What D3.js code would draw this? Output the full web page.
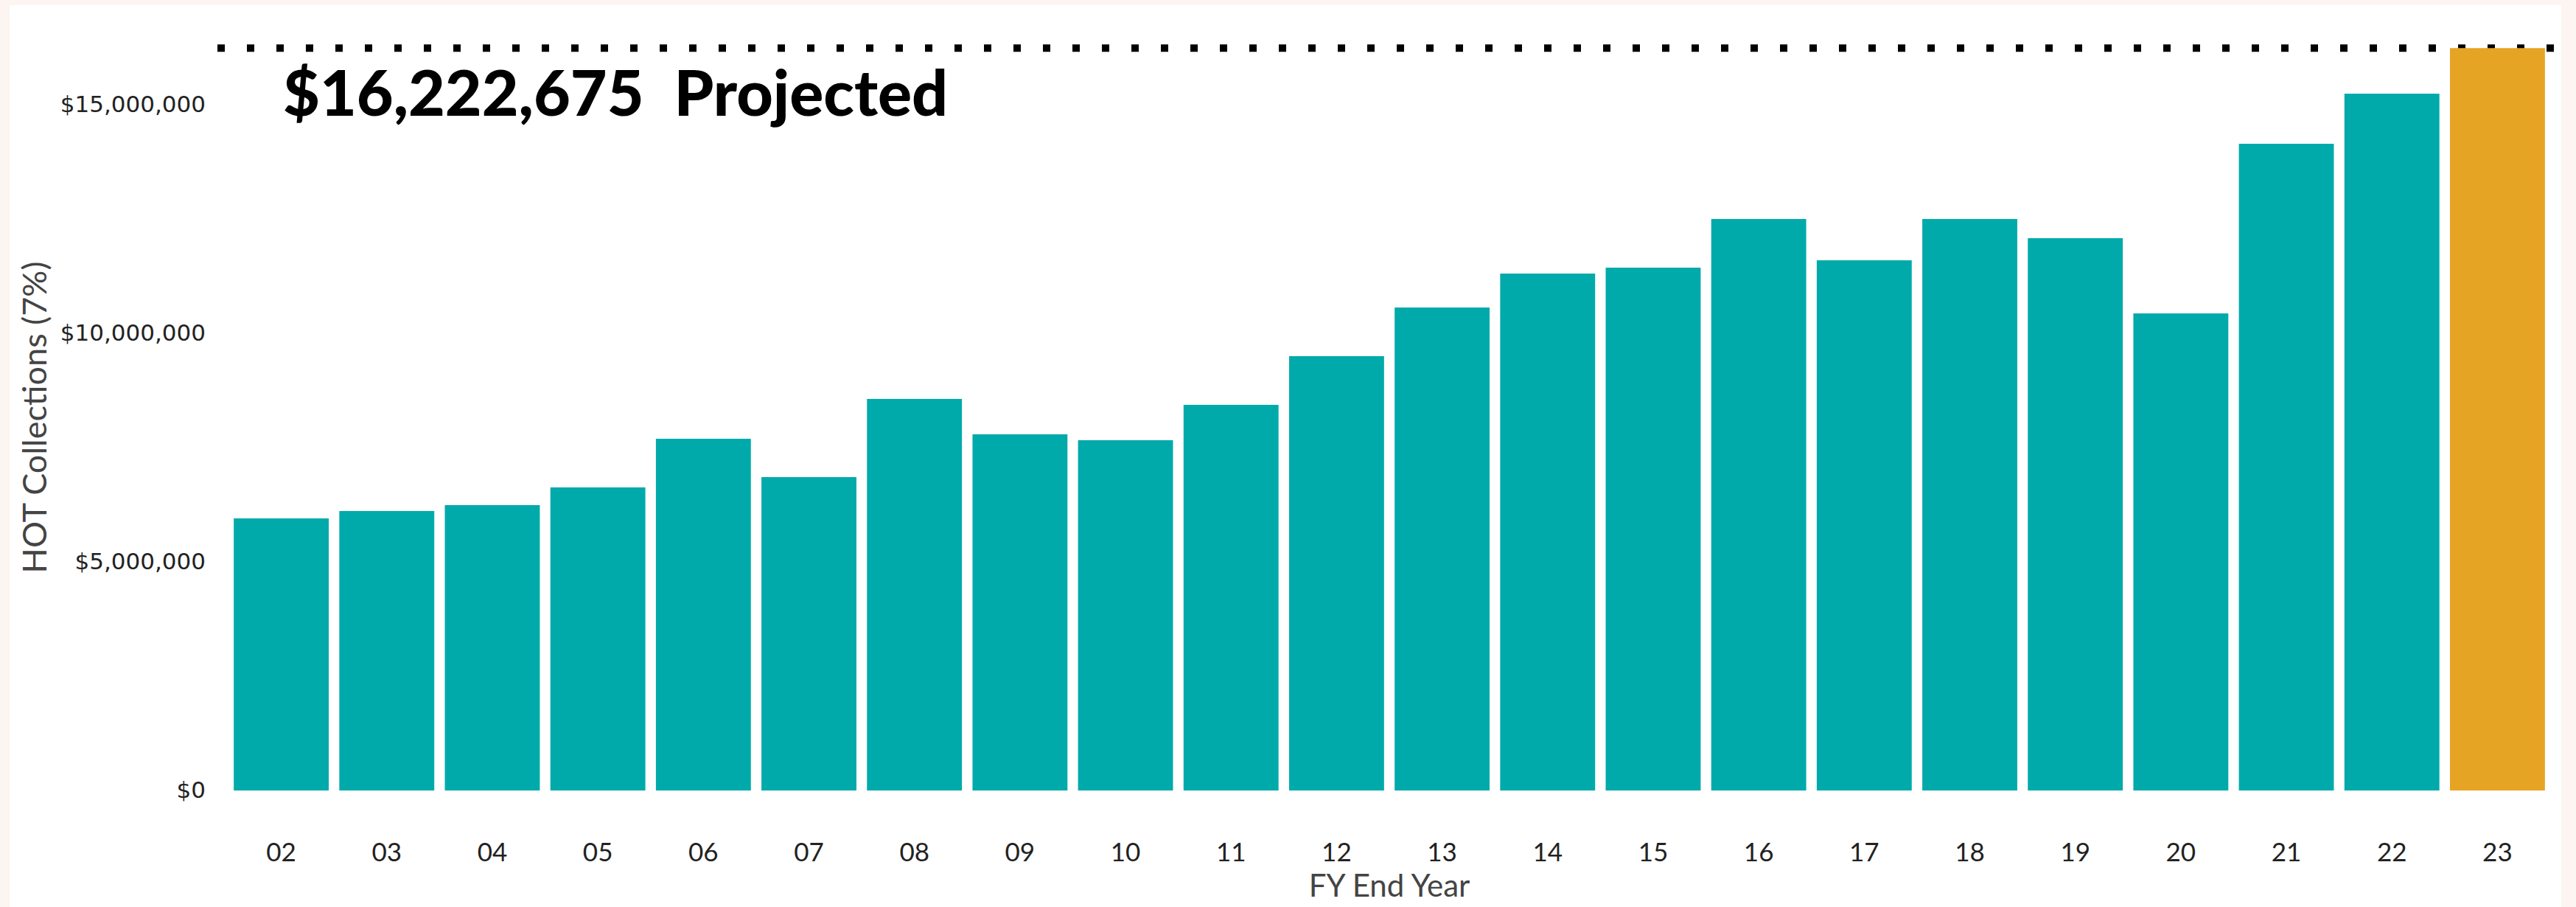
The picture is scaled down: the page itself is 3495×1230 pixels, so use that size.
<!DOCTYPE html>
<html>
<head>
<meta charset="utf-8">
<script src="https://cdnjs.cloudflare.com/ajax/libs/d3/7.8.5/d3.min.js"></script>
<style>
  body { margin: 0; background: #fdf5f2; }
  svg { display: block; }
</style>
</head>
<body>
<script>
// FY end years (20xx) and HOT collections at 7%; last one is the projection
var fyYears = ['02', '03', '04', '05', '06', '07', '08', '09', '10', '11', '12',
               '13', '14', '15', '16', '17', '18', '19', '20', '21', '22', '23'];
var hotCollections = [5946000, 6107000, 6236000, 6623000, 7686000, 6848000, 8556000,
                      7783000, 7654000, 8427000, 9491000, 10554000, 11296000, 11425000,
                      12488000, 11586000, 12488000, 12069000, 10425000, 14132000,
                      15227000, 16222675];
var projectedYear = '23';
var yTicks = [0, 5000000, 10000000, 15000000];

var width = 3495,
    height = 1230;

var margin = { left: 310, right: 35, top: 17, bottom: 158 };

var x = d3.scaleBand()
    .domain(fyYears)
    .range([margin.left, width - margin.right])
    .paddingInner(0.1)
    .paddingOuter(0.05);

var y = d3.scaleLinear()
    .domain([0, 17000000])
    .range([height - margin.bottom, margin.top]);

var data = fyYears.map(function(yr, i) {
    return { year: yr, value: hotCollections[i] };
});
var projected = data.filter(function(d) { return d.year === projectedYear; })[0];

var svg = d3.select("body").append("svg")
    .attr("width", width)
    .attr("height", height);

// white card on the pinkish frame
svg.append('rect')
    .attr('x', 13).attr('y', 7)
    .attr('width', width - 13 - 20).attr('height', height - 7)
    .attr('fill', '#ffffff');

// dotted reference line at the projected value (drawn behind the bars)
svg.append('line')
    .attr('x1', x.range()[0] - 15)
    .attr('x2', x.range()[1] + 5)
    .attr('y1', y(projected.value))
    .attr('y2', y(projected.value))
    .attr('stroke', '#000')
    .attr('stroke-width', 10)
    .attr('stroke-dasharray', '10,30');

svg.append('g').attr('class', 'bars')
    .selectAll('rect')
    .data(data)
    .enter().append('rect')
    .attr('x', function(d) { return x(d.year); })
    .attr('y', function(d) { return y(d.value); })
    .attr('width', x.bandwidth())
    .attr('height', function(d) { return y(0) - y(d.value); })
    .attr('fill', function(d) { return d.year === projectedYear ? '#e6a424' : '#00aaab'; });

var yAxis = d3.axisLeft(y)
    .tickValues(yTicks)
    .tickSize(0)
    .tickPadding(31)
    .tickFormat(d3.format('$,'));

var yAxisG = svg.append('g')
    .attr('class', 'axis y')
    .attr('transform', 'translate(' + margin.left + ',0)')
    .call(yAxis);
yAxisG.select('.domain').remove();
yAxisG.selectAll('text')
    .attr('font-family', '"DejaVu Sans", sans-serif')
    .attr('font-size', 31)
    .attr('fill', '#222');

var xAxis = d3.axisBottom(x)
    .tickSize(0)
    .tickPadding(71);

var xAxisG = svg.append('g')
    .attr('class', 'axis x')
    .attr('transform', 'translate(0,' + y(0) + ')')
    .call(xAxis);
xAxisG.select('.domain').remove();
xAxisG.selectAll('text')
    .attr('font-family', 'Lato, sans-serif')
    .attr('font-size', 35)
    .attr('fill', '#222');

svg.append('text')
    .attr('x', (x.range()[0] + x.range()[1]) / 2)
    .attr('y', 1216)
    .attr('text-anchor', 'middle')
    .attr('font-family', 'Lato, sans-serif')
    .attr('font-size', 42)
    .attr('fill', '#444')
    .text('FY End Year');

svg.append('text')
    .attr('transform', 'translate(63,566) rotate(-90)')
    .attr('text-anchor', 'middle')
    .attr('font-family', 'Lato, sans-serif')
    .attr('font-size', 45)
    .attr('fill', '#444')
    .text('HOT Collections (7%)');

svg.append('text')
    .attr('x', 384)
    .attr('y', 157)
    .attr('font-family', 'Lato, sans-serif')
    .attr('font-weight', 900)
    .attr('font-size', 86)
    .attr('fill', '#000')
    .style('white-space', 'pre')
    .text(d3.format('$,')(projected.value) + '  Projected');
</script>
</body>
</html>
